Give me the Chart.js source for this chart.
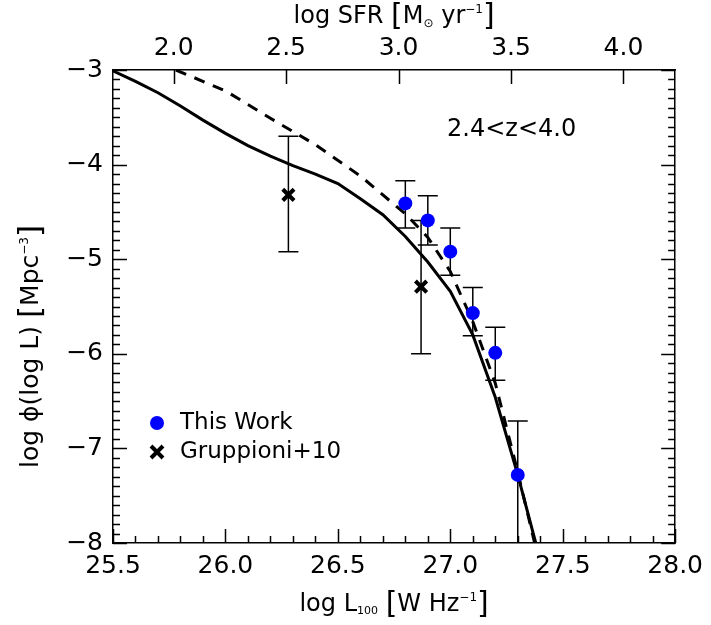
<!DOCTYPE html>
<html>
<head>
<meta charset="utf-8">
<script src="https://cdn.jsdelivr.net/npm/chart.js@4.4.1/dist/chart.umd.min.js"></script>
<style>
html, body { margin: 0; padding: 0; background: #fff; }
</style>
</head>
<body>
<canvas id="lf" width="711" height="625"></canvas>
<script>
// This Work (blue circles)
var twL = [26.80, 26.90, 27.00, 27.10, 27.20, 27.30];
var twPhi = [-4.41, -4.59, -4.92, -5.57, -5.99, -7.28];
var twHi = [-4.17, -4.33, -4.67, -5.30, -5.72, -6.71];
var twLo = [-4.67, -4.85, -5.17, -5.81, -6.28, -8.60];

// Gruppioni+10 (crosses)
var grL = [26.28, 26.87];
var grPhi = [-4.32, -5.29];
var grHi = [-3.70, -4.59];
var grLo = [-4.92, -6.00];

// model curves
var solidL = [25.5, 25.6, 25.7, 25.8, 25.9, 26.0, 26.1, 26.2, 26.3, 26.4, 26.5, 26.6, 26.7, 26.8, 26.9, 27.0, 27.1, 27.2, 27.3, 27.38];
var solidPhi = [-3.01, -3.12, -3.24, -3.38, -3.53, -3.67, -3.80, -3.91, -4.01, -4.10, -4.20, -4.36, -4.53, -4.76, -5.03, -5.34, -5.80, -6.46, -7.28, -8.00];
var dashL = [25.78, 26.0, 26.2, 26.4, 26.6, 26.8, 26.9, 27.0, 27.1, 27.2, 27.3, 27.38];
var dashPhi = [-3.00, -3.22, -3.51, -3.79, -4.12, -4.52, -4.77, -5.13, -5.66, -6.31, -7.25, -8.05];

var sfrOffset = 23.77;   // log SFR = log L100 - offset
var xMin = 25.5, xMax = 28.0;
var yMin = -8, yMax = -3;

var FONT = '"DejaVu Sans", sans-serif';

function pts(xs, ys) {
    var out = [];
    for (var i = 0; i < xs.length; i++) out.push({ x: xs[i], y: ys[i] });
    return out;
}

function drawRich(ctx, parts, cx, cy, angle) {
    ctx.save();
    ctx.translate(cx, cy);
    if (angle) ctx.rotate(angle);
    var w = 0;
    for (var i = 0; i < parts.length; i++) {
        ctx.font = parts[i][1] + 'px ' + FONT;
        w += ctx.measureText(parts[i][0]).width;
    }
    var x = -w / 2;
    ctx.fillStyle = '#000';
    ctx.textBaseline = 'alphabetic';
    for (var j = 0; j < parts.length; j++) {
        ctx.font = parts[j][1] + 'px ' + FONT;
        ctx.fillText(parts[j][0], x, 8 + parts[j][2]);
        x += ctx.measureText(parts[j][0]).width;
    }
    ctx.restore();
}

var decor = {
    id: 'decor',
    beforeDatasetsDraw: function(chart) {
        var ctx = chart.ctx, xs = chart.scales.x, ys = chart.scales.y, a = chart.chartArea;
        ctx.save();
        ctx.beginPath();
        ctx.rect(a.left, a.top, a.right - a.left, a.bottom - a.top);
        ctx.clip();
        ctx.strokeStyle = '#000';
        ctx.lineWidth = 1.5;
        function bars(L, hi, lo) {
            for (var i = 0; i < L.length; i++) {
                var px = xs.getPixelForValue(L[i]);
                var pt = ys.getPixelForValue(hi[i]);
                var pb = ys.getPixelForValue(lo[i]);
                ctx.beginPath();
                ctx.moveTo(px, pt); ctx.lineTo(px, pb);
                ctx.moveTo(px - 10, pt); ctx.lineTo(px + 10, pt);
                ctx.moveTo(px - 10, pb); ctx.lineTo(px + 10, pb);
                ctx.stroke();
            }
        }
        bars(twL, twHi, twLo);
        bars(grL, grHi, grLo);
        ctx.restore();
    },
    afterDraw: function(chart) {
        var ctx = chart.ctx, xs = chart.scales.x, x2 = chart.scales.x2, ys = chart.scales.y, a = chart.chartArea;
        ctx.save();
        ctx.strokeStyle = '#000';
        ctx.lineWidth = 1.5;
        ctx.beginPath();
        // bottom ticks, minor every 0.1
        for (var i = 0; i <= 25; i++) {
            var px = Math.round(xs.getPixelForValue(xMin + i * 0.1)) + 0.5;
            var len = (i % 5 === 0) ? 14 : 7;
            ctx.moveTo(px, a.bottom); ctx.lineTo(px, a.bottom - len);
        }
        // top ticks (SFR) major only
        for (var k = 0; k < x2.ticks.length; k++) {
            var qx = Math.round(x2.getPixelForValue(x2.ticks[k].value)) + 0.5;
            ctx.moveTo(qx, a.top); ctx.lineTo(qx, a.top + 14);
        }
        // left and right ticks
        for (var j = 0; j <= 50; j++) {
            var py = Math.round(ys.getPixelForValue(yMin + j * 0.1)) + 0.5;
            var major = (j % 10 === 0);
            ctx.moveTo(a.left, py); ctx.lineTo(a.left + (major ? 14 : 7), py);
            ctx.moveTo(a.right, py); ctx.lineTo(a.right - (major ? 14 : 7), py);
        }
        ctx.stroke();

        // axis titles
        var cx = (a.left + a.right) / 2;
        drawRich(ctx, [['log SFR ', 24, 0], ['[', 30, 2], ['M', 24, 0], ['\u2299', 12, 4], [' yr', 24, 0], ['\u22121', 12, -10], [']', 30, 2]], cx, 15, 0);
        drawRich(ctx, [['log L', 24, 0], ['100', 11, 3], [' ', 24, 0], ['[', 30, 2], ['W Hz', 24, 0], ['\u22121', 12, -10], [']', 30, 2]], cx, 603, 0);
        drawRich(ctx, [['log \u03d5(log L) ', 25, 0], ['[', 31, 2], ['Mpc', 25, 0], ['\u22123', 12, -10], [']', 31, 2]], 30, (a.top + a.bottom) / 2 + 40, -Math.PI / 2);

        // redshift label
        ctx.fillStyle = '#000';
        ctx.font = '24px ' + FONT;
        ctx.textBaseline = 'middle';
        ctx.textAlign = 'left';
        ctx.fillText('2.4<z<4.0', 447, 130);

        // legend
        ctx.font = '23px ' + FONT;
        ctx.fillStyle = '#0000ff';
        ctx.beginPath();
        ctx.arc(157, 423, 7, 0, Math.PI * 2);
        ctx.fill();
        ctx.fillStyle = '#000';
        ctx.fillText('This Work', 180, 423);
        ctx.lineWidth = 4;
        ctx.beginPath();
        ctx.moveTo(151, 446); ctx.lineTo(163, 458);
        ctx.moveTo(163, 446); ctx.lineTo(151, 458);
        ctx.stroke();
        ctx.fillText('Gruppioni+10', 180, 452);
        ctx.restore();
    }
};

new Chart(document.getElementById('lf'), {
    type: 'scatter',
    data: {
        datasets: [
            {
                label: 'This Work',
                data: pts(twL, twPhi),
                pointStyle: 'circle',
                pointRadius: 7,
                backgroundColor: '#0000ff',
                borderColor: '#0000ff',
                borderWidth: 0
            },
            {
                label: 'Gruppioni+10',
                data: pts(grL, grPhi),
                pointStyle: 'crossRot',
                pointRadius: 8,
                borderColor: '#000',
                borderWidth: 4
            },
            {
                type: 'line',
                label: 'model',
                data: pts(solidL, solidPhi),
                borderColor: '#000',
                borderWidth: 3,
                pointRadius: 0,
                fill: false,
                tension: 0
            },
            {
                type: 'line',
                label: 'model dashed',
                data: pts(dashL, dashPhi),
                borderColor: '#000',
                borderWidth: 3,
                borderDash: [11, 9],
                pointRadius: 0,
                fill: false,
                tension: 0
            }
        ]
    },
    options: {
        responsive: false,
        animation: false,
        layout: { padding: 0 },
        plugins: { legend: { display: false }, tooltip: { enabled: false } },
        scales: {
            x: {
                type: 'linear', position: 'bottom', min: xMin, max: xMax,
                grid: { display: false, drawTicks: false },
                border: { display: true, color: '#000', width: 1.5 },
                ticks: {
                    stepSize: 0.5, padding: 8, color: '#000', maxRotation: 0,
                    font: { family: FONT, size: 25 },
                    callback: function(v) { return v.toFixed(1); }
                },
                afterFit: function(s) { s.height = 82; }
            },
            x2: {
                type: 'linear', position: 'top', min: xMin - sfrOffset, max: xMax - sfrOffset,
                grid: { display: false, drawTicks: false },
                border: { display: true, color: '#000', width: 1.5 },
                ticks: {
                    stepSize: 0.5, padding: 7, color: '#000', maxRotation: 0,
                    font: { family: FONT, size: 25 },
                    callback: function(v) { return v.toFixed(1); }
                },
                afterBuildTicks: function(s) {
                    var t = [];
                    for (var v = 2.0; v <= 4.0001; v += 0.5) t.push({ value: v });
                    s.ticks = t;
                },
                afterFit: function(s) { s.height = 70; }
            },
            y: {
                type: 'linear', position: 'left', min: yMin, max: yMax,
                grid: { display: false, drawTicks: false },
                border: { display: true, color: '#000', width: 1.5 },
                ticks: {
                    stepSize: 1, padding: 10, color: '#000',
                    font: { family: FONT, size: 25 },
                    callback: function(v) { return '\u2212' + Math.abs(v); }
                },
                afterFit: function(s) { s.width = 113; }
            },
            y2: {
                type: 'linear', position: 'right', min: yMin, max: yMax,
                grid: { display: false, drawTicks: false },
                border: { display: true, color: '#000', width: 1.5 },
                ticks: { display: false },
                afterFit: function(s) { s.width = 34; }
            }
        }
    },
    plugins: [decor]
});
</script>
</body>
</html>
